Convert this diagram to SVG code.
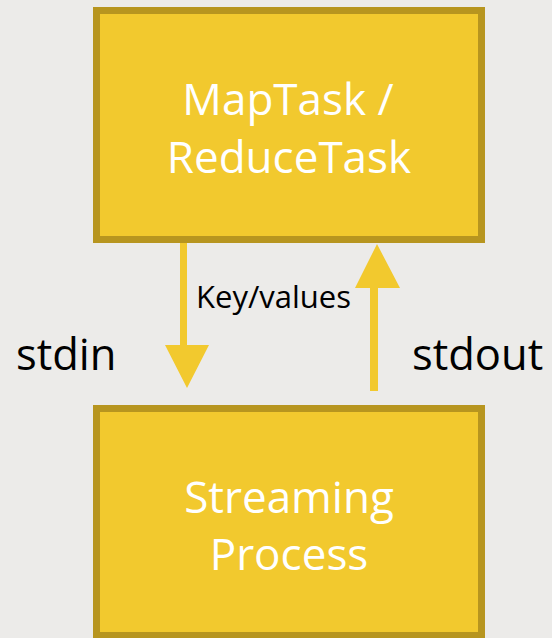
<svg xmlns="http://www.w3.org/2000/svg" width="552" height="638" viewBox="0 0 552 638">
<style>
.box{fill:#F2C92E;stroke:#B7951F;stroke-width:7}
.lbl{fill:#FFFFFF;font-family:"Open Sans","Liberation Sans",sans-serif;font-size:44px;text-anchor:middle}
.side{fill:#000000;font-family:"Open Sans","Liberation Sans",sans-serif;font-size:43.5px}
.key{fill:#000000;font-family:"Open Sans","Liberation Sans",sans-serif;font-size:31px}
.arrow{fill:#F2C92E}
</style>
<rect x="0" y="0" width="552" height="638" fill="#ECEBE9"/>
<g id="maptask">
<rect class="box" x="96.5" y="10.5" width="385" height="229"/>
<text class="lbl" x="288" y="115">MapTask /</text>
<text class="lbl" x="289" y="173">ReduceTask</text>
</g>
<g id="streaming">
<rect class="box" x="96.5" y="408.5" width="385" height="227"/>
<text class="lbl" x="289" y="513">Streaming</text>
<text class="lbl" x="289" y="570">Process</text>
</g>
<g id="connectors">
<polygon class="arrow" points="180,243 187,243 187,345 209,345 187,388 165,345 180,345"/>
<polygon class="arrow" points="370,391 378,391 378,288 400,288 377,244 355,288 370,288"/>
</g>
<g id="labels">
<text class="key" x="196" y="308">Key/values</text>
<text class="side" x="16" y="370">stdin</text>
<text class="side" x="412" y="370">stdout</text>
</g>
</svg>
